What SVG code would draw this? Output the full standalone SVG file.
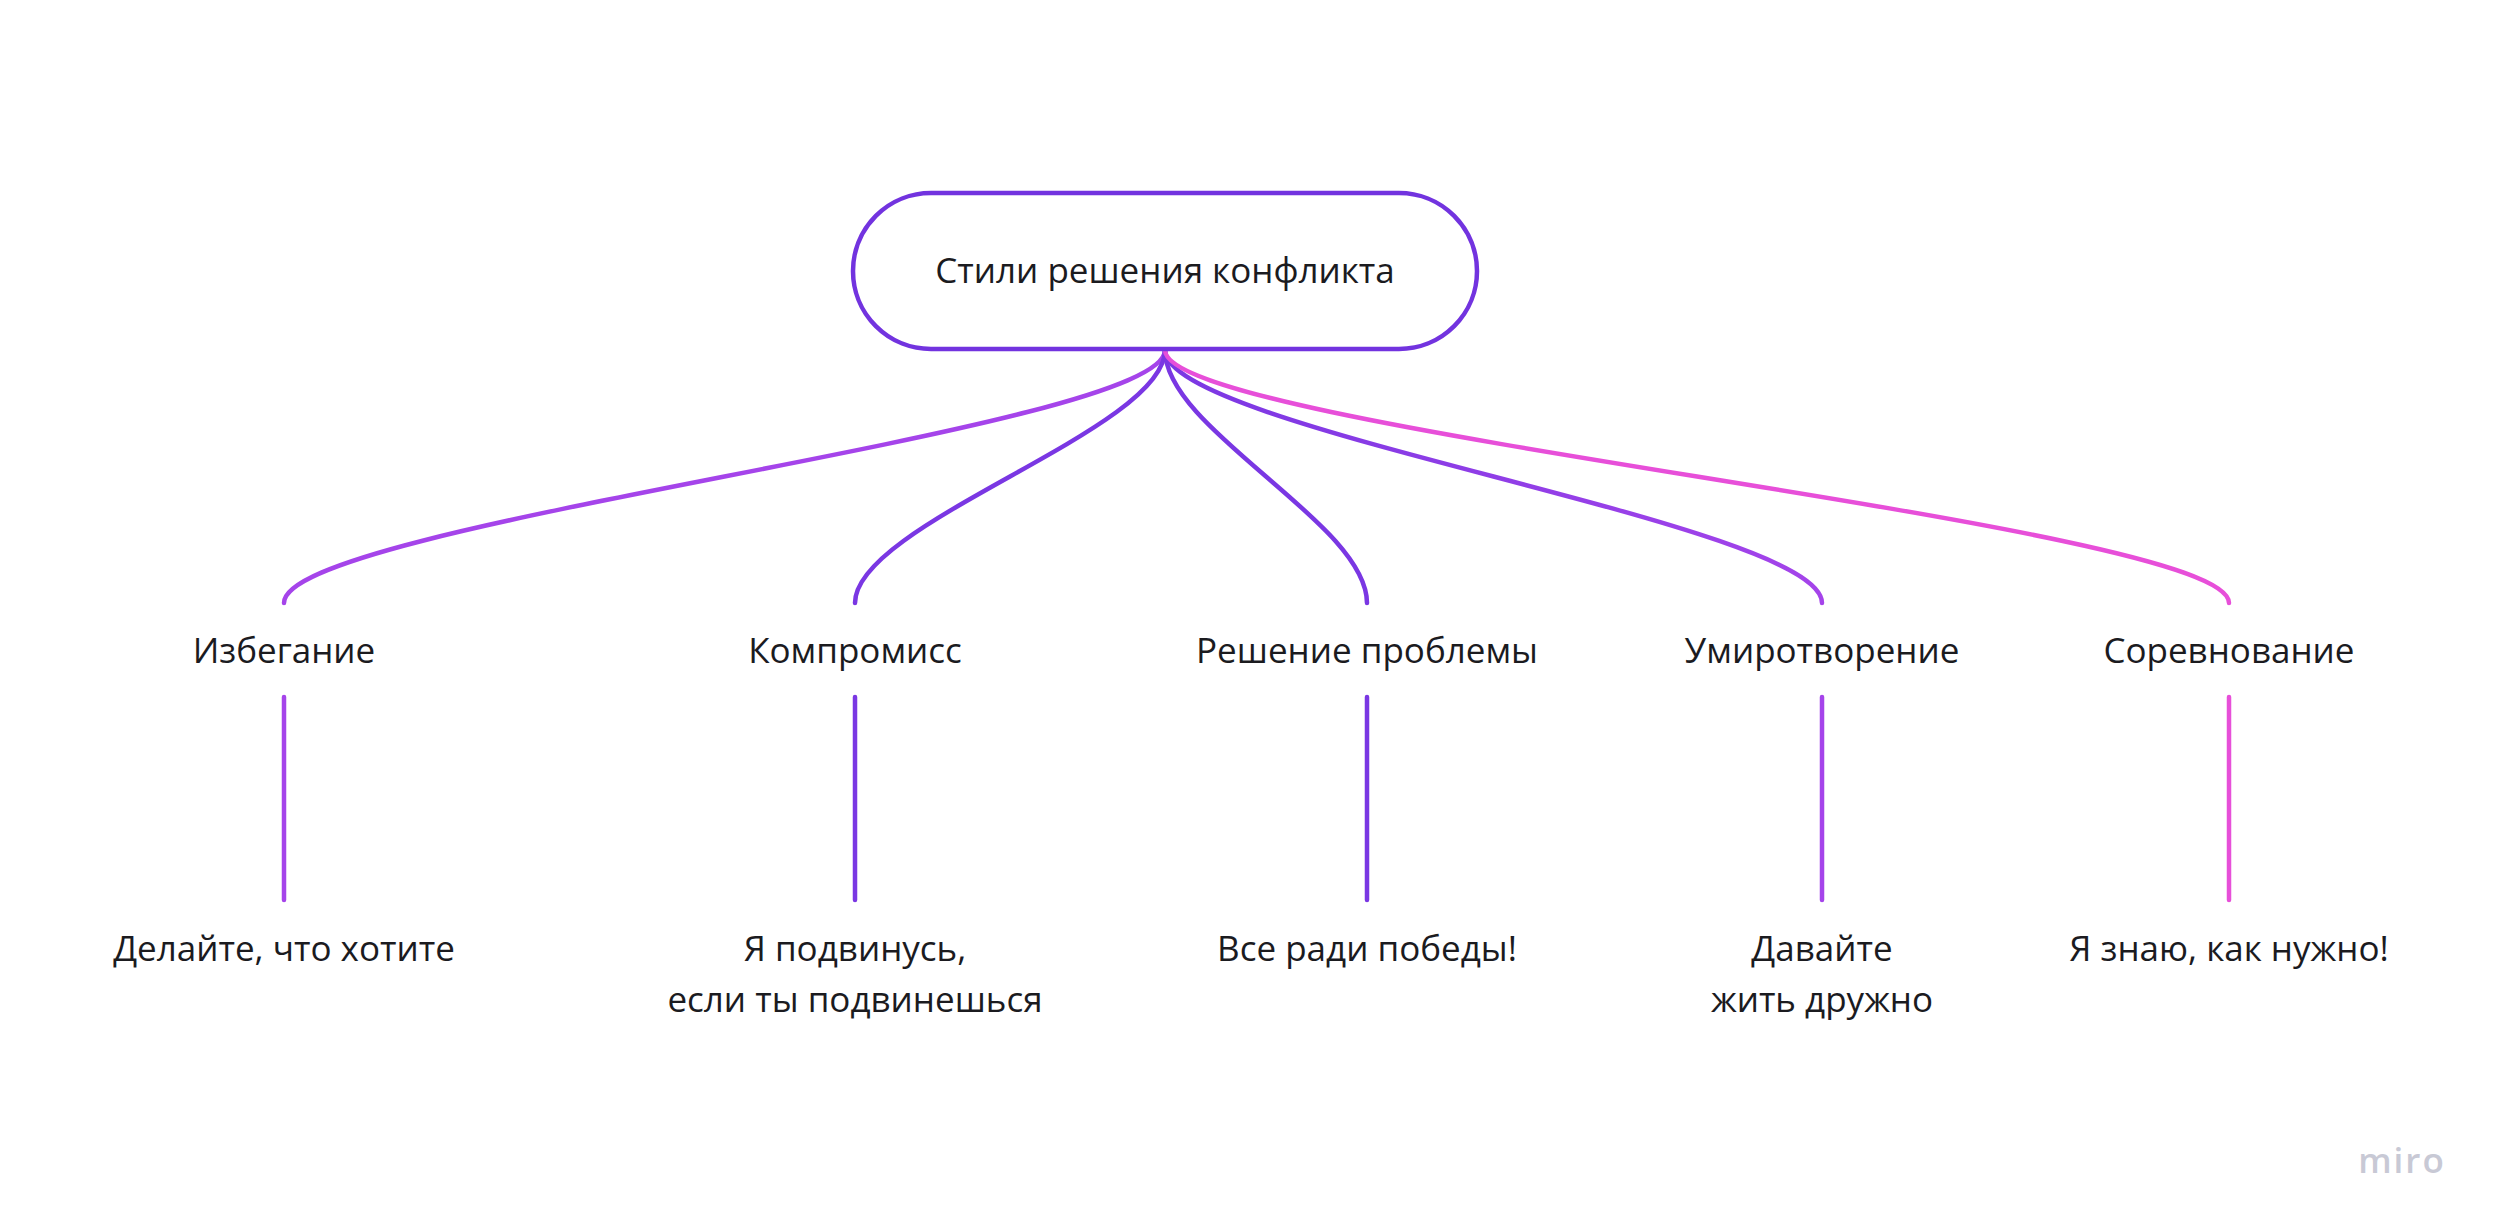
<svg xmlns="http://www.w3.org/2000/svg" width="2500" height="1232" viewBox="0 0 2500 1232">
<style>
text{font-family:"Open Sans","Noto Sans","Liberation Sans",sans-serif;font-size:35px;fill:#1b1b1f;text-anchor:middle}
.c{fill:none;stroke-width:4.5;stroke-linecap:round}
.purple{stroke:#7a37e3}
.violet{stroke:#a544ea}
.pink{stroke:#e74fd9}
.logo{font-size:35px;font-weight:600;fill:#c8c9d5;letter-spacing:2px}
</style>
<defs>
<linearGradient id="gU" gradientUnits="userSpaceOnUse" x1="1165" y1="350" x2="1822" y2="603">
<stop offset="0" stop-color="#7a37e3"/>
<stop offset="1" stop-color="#a544ea"/>
</linearGradient>
</defs>
<rect width="2500" height="1232" fill="#ffffff"/>
<g id="connectors">
<path class="c violet" d="M1165,350 C1165,430 284,523 284,603"/>
<path class="c purple" d="M1165,350 C1165,430 855,523 855,603"/>
<path class="c purple" d="M1165,350 C1165,430 1367,523 1367,603"/>
<path class="c" stroke="url(#gU)" d="M1165,350 C1165,430 1822,523 1822,603"/>
<path class="c pink" d="M1165,350 C1165,430 2229,523 2229,603"/>
<line class="c violet" x1="284" y1="697" x2="284" y2="900"/>
<line class="c purple" x1="855" y1="697" x2="855" y2="900"/>
<line class="c purple" x1="1367" y1="697" x2="1367" y2="900"/>
<line class="c violet" x1="1822" y1="697" x2="1822" y2="900"/>
<line class="c pink" x1="2229" y1="697" x2="2229" y2="900"/>
</g>
<g id="root">
<rect x="853" y="193" width="624" height="156" rx="78" ry="78" fill="#ffffff" stroke="#7233df" stroke-width="4.5"/>
<text x="1165" y="283">Стили решения конфликта</text>
</g>
<g id="n-avoid"><text x="284" y="663">Избегание</text></g>
<g id="n-compromise"><text x="855" y="663">Компромисс</text></g>
<g id="n-solve"><text x="1367" y="663">Решение проблемы</text></g>
<g id="n-appease"><text x="1822" y="663">Умиротворение</text></g>
<g id="n-compete"><text x="2229" y="663">Соревнование</text></g>
<g id="d-avoid"><text x="284" y="961">Делайте, что хотите</text></g>
<g id="d-compromise"><text x="855" y="961">Я подвинусь,</text><text x="855" y="1012">если ты подвинешься</text></g>
<g id="d-solve"><text x="1367" y="961">Все ради победы!</text></g>
<g id="d-appease"><text x="1822" y="961">Давайте</text><text x="1822" y="1012">жить дружно</text></g>
<g id="d-compete"><text x="2229" y="961">Я знаю, как нужно!</text></g>
<text class="logo" x="2402" y="1173">miro</text>
</svg>
